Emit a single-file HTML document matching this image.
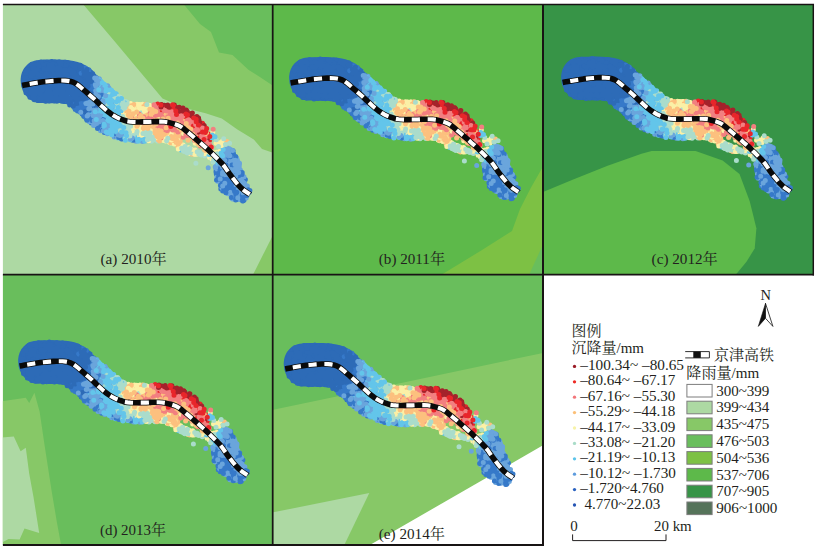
<!DOCTYPE html>
<html lang="zh"><head><meta charset="utf-8"><title>沉降量与降雨量</title>
<style>html,body{margin:0;padding:0;background:#fff}svg{display:block}text{font-family:"Liberation Serif","Noto Serif CJK SC",serif;fill:#231f20}</style></head><body>
<svg width="816" height="549" viewBox="0 0 816 549">
<defs>
<clipPath id="ca"><rect x="2.9" y="4.5" width="269.8" height="270.2"/></clipPath>
<clipPath id="cb"><rect x="272.7" y="4.5" width="270.3" height="270.2"/></clipPath>
<clipPath id="cc"><rect x="543.0" y="4.5" width="270.3" height="270.2"/></clipPath>
<clipPath id="cd"><rect x="2.9" y="274.7" width="269.8" height="270.3"/></clipPath>
<clipPath id="ce"><rect x="272.7" y="274.7" width="270.3" height="270.3"/></clipPath>
<g id="band">
<polygon fill="#2d6bb7" points="21.1,85.6 20.6,80.5 20.7,78.4 20.9,76.8 21.1,75.4 21.4,74.3 21.7,73.2 22.0,72.3 22.4,71.4 22.8,70.6 23.2,69.8 23.6,69.1 24.0,68.4 24.5,67.8 24.9,67.2 26.7,65.2 28.5,63.6 30.4,62.4 32.4,61.4 34.4,60.7 36.6,60.2 38.9,60.0 41.2,59.7 43.4,59.6 45.5,59.6 47.7,59.6 49.9,59.5 52.2,59.5 54.4,59.5 57.0,59.5 59.5,59.6 62.0,59.7 64.7,59.8 67.5,60.0 70.4,60.4 73.5,60.9 77.7,61.9 81.4,63.3 85.7,65.5 88.6,67.3 91.0,69.1 93.4,71.0 65.9,103.9 65.2,103.3 64.4,102.8 64.0,102.5 64.9,103.0 65.1,103.1 65.6,103.3 64.8,103.2 63.8,103.1 62.7,103.1 61.5,103.1 59.9,103.0 58.6,103.0 57.1,103.0 55.4,103.1 53.6,103.2 51.8,103.2 50.0,103.2 48.2,103.2 46.3,103.2 44.6,103.0 42.9,102.9 41.0,103.0 39.2,103.0 37.2,102.7 35.1,102.2 33.0,101.3 30.9,100.1 30.3,99.8 29.8,99.3 29.2,98.9 28.7,98.4 28.1,97.9 27.5,97.3 26.9,96.7 26.3,96.0 25.6,95.2 24.9,94.3 24.2,93.2 23.4,91.9 22.5,90.1 21.1,85.6"/>
<path d="M194.3 126.7h0M191.1 132.9h0M164.8 107.9h0M198.7 123.3h0M172.1 110.5h0M170.3 110.2h0M190.3 118.9h0M196.7 125.2h0M195.4 130.9h0M201.3 124.8h0M192.6 123.3h0M172.9 112.3h0M204.9 142.5h0M175.2 112.3h0M197.8 120.3h0M194.6 125.4h0M205.2 138.5h0M192.6 126.7h0M204.0 128.9h0M200.2 130.9h0M173.1 123.3h0M189.3 130.2h0M206.9 143.2h0" stroke="#e8252a" stroke-width="5.0" stroke-linecap="round" fill="none"/>
<path d="M186.3 110.1h0M174.4 105.0h0M202.5 124.0h0M196.5 122.3h0M167.7 104.9h0M196.9 116.4h0" stroke="#a4222b" stroke-width="5.0" stroke-linecap="round" fill="none"/>
<path d="M84.8 92.9h0M97.0 125.9h0M226.2 179.0h0M238.3 173.6h0M94.7 104.7h0M83.7 103.8h0M232.7 192.7h0M90.4 119.0h0M94.4 79.5h0M218.6 175.8h0M237.3 181.4h0M224.6 170.8h0M80.6 97.6h0M80.1 85.3h0M225.5 186.3h0M221.6 177.7h0M227.0 191.5h0M216.2 170.5h0M238.5 196.4h0M95.5 101.7h0M83.2 72.8h0M98.7 128.0h0M228.8 190.7h0M77.5 109.8h0M94.6 93.4h0M83.1 104.6h0M83.6 79.0h0M88.5 95.0h0M233.5 197.0h0M231.1 190.7h0M227.3 181.4h0M95.3 77.9h0M229.3 161.3h0M228.0 188.3h0M235.8 193.4h0M227.3 183.0h0M222.8 184.2h0M95.4 97.8h0M244.1 200.1h0M79.0 109.3h0M245.4 179.4h0M70.0 100.3h0M96.1 97.0h0M237.6 190.9h0M79.7 70.1h0M76.6 78.0h0M84.8 97.5h0M226.5 186.5h0M82.5 69.0h0M216.3 174.1h0M97.2 96.0h0M237.7 199.6h0M233.2 190.8h0M76.6 85.8h0M93.1 106.4h0M81.1 102.6h0M232.9 183.3h0M244.4 181.2h0M243.4 200.8h0M87.8 96.4h0M236.6 195.3h0M77.3 103.1h0M233.0 189.3h0M86.9 114.8h0M226.6 162.4h0M220.6 182.1h0M234.8 196.5h0M90.9 84.3h0M241.0 199.2h0M79.4 74.2h0M89.3 77.2h0M230.5 185.3h0M93.6 88.1h0M93.7 91.7h0M90.4 113.2h0M236.3 173.1h0M92.5 91.1h0M96.7 107.6h0" stroke="#3679c9" stroke-width="5.0" stroke-linecap="round" fill="none"/>
<path d="M147.9 124.9h0M136.8 117.3h0M126.6 119.2h0M128.6 122.7h0M139.2 104.5h0M131.3 105.2h0M150.6 129.7h0M133.9 107.4h0M131.2 115.9h0M162.7 132.1h0M168.3 141.0h0M128.7 124.2h0M173.6 136.4h0M181.1 146.2h0M134.0 105.5h0M143.2 126.7h0M122.6 115.6h0M146.0 110.8h0M149.1 105.5h0M207.3 154.4h0M124.9 118.4h0M132.2 128.4h0M155.5 137.7h0M144.9 131.3h0M160.7 139.7h0M171.4 142.8h0M156.0 135.8h0M142.8 129.1h0M161.8 139.3h0M138.0 111.1h0M143.9 130.1h0M150.8 135.5h0M135.0 116.8h0M133.1 110.0h0M128.2 108.6h0M133.4 115.1h0M128.6 117.4h0M144.6 133.3h0M212.4 157.2h0M131.8 131.0h0M132.1 110.5h0M208.7 151.0h0M175.7 140.8h0M135.8 105.8h0M190.3 153.5h0M217.4 155.5h0M122.2 114.2h0M196.7 140.2h0M163.4 140.6h0M127.5 117.4h0M114.7 99.2h0M138.3 135.0h0M132.8 125.3h0M154.6 127.2h0M126.9 111.0h0M178.2 138.9h0M153.1 130.3h0M173.6 132.0h0M174.3 136.5h0M169.2 139.6h0M151.6 128.0h0M124.5 117.9h0M185.8 150.2h0M150.1 134.5h0M134.6 114.5h0M143.8 124.6h0M124.7 117.7h0M159.1 133.7h0M121.3 120.1h0M127.5 108.7h0M173.4 137.4h0M173.0 137.9h0" stroke="#fbf0a6" stroke-width="5.0" stroke-linecap="round" fill="none"/>
<path d="M51.3 92.5h0M30.2 68.8h0M57.0 72.9h0M64.6 91.9h0M60.1 83.4h0M35.2 67.3h0M42.6 96.2h0M31.8 86.2h0M68.9 79.8h0M28.6 76.8h0M63.5 74.5h0M79.7 89.7h0M44.6 83.8h0M37.6 100.1h0M63.7 83.8h0M71.9 96.3h0M84.9 90.0h0M47.5 80.8h0M43.5 78.7h0M42.2 76.5h0M37.8 83.1h0M89.1 86.9h0M55.1 73.6h0M26.6 87.9h0M40.6 82.7h0M51.5 66.7h0M46.0 65.4h0M54.5 64.2h0M54.5 100.9h0M83.0 76.6h0M84.4 77.4h0M59.0 87.8h0M34.0 66.1h0M67.6 78.9h0M67.1 97.0h0M52.1 72.2h0M41.2 64.7h0M70.6 101.3h0M24.5 83.3h0M68.1 95.6h0M62.4 68.3h0M75.8 88.0h0M85.2 72.1h0M32.4 95.5h0M39.0 80.6h0M39.2 75.0h0M34.8 87.2h0M91.4 94.4h0M59.3 71.1h0M78.5 85.4h0M71.0 66.6h0M38.9 97.2h0M83.7 87.3h0M60.2 93.8h0M60.5 94.6h0M27.4 71.5h0M40.8 79.0h0M37.5 68.0h0M37.0 77.3h0M75.5 86.8h0M52.1 79.6h0M62.9 71.7h0M57.8 88.3h0M60.6 91.5h0M70.1 96.9h0M56.9 101.2h0M25.7 80.5h0M57.5 63.6h0M64.1 93.9h0M78.5 77.7h0M62.0 92.6h0M61.2 74.0h0M85.6 80.8h0M47.3 95.3h0M81.8 95.7h0M55.2 87.9h0M25.0 81.5h0M81.1 98.1h0M64.2 67.5h0M39.4 92.5h0M40.2 63.7h0M42.4 90.2h0M54.6 66.7h0M53.3 97.0h0M42.5 63.3h0M37.8 87.5h0M52.1 86.7h0M51.5 64.8h0M29.1 75.4h0M48.6 93.5h0M81.7 82.3h0M55.5 84.2h0M39.5 67.1h0M63.9 101.4h0M49.9 87.2h0M73.5 102.4h0M37.3 96.4h0M50.1 82.8h0M59.3 80.7h0M66.6 98.2h0M35.5 86.2h0M53.2 76.5h0M51.7 100.1h0M82.3 67.3h0M70.4 88.7h0M34.3 99.8h0M51.8 61.4h0M69.2 96.8h0M33.3 77.8h0M57.5 93.5h0M74.9 88.3h0M62.9 75.8h0M35.4 91.8h0M59.6 62.6h0M49.6 67.8h0M55.8 90.3h0M59.5 97.7h0M56.6 88.6h0M51.5 75.4h0M40.4 85.8h0M32.2 70.9h0M44.8 66.9h0M77.1 100.0h0M51.3 95.2h0M41.6 84.1h0M59.5 87.4h0M40.7 94.7h0M27.9 83.9h0M44.1 83.9h0M53.7 88.5h0M44.3 92.3h0M71.5 100.2h0M36.7 93.6h0M50.4 70.9h0M68.8 95.7h0M70.7 75.2h0M55.6 79.9h0M29.4 67.0h0M64.3 72.4h0M89.2 87.9h0M64.9 72.4h0M26.9 89.9h0M54.8 62.1h0M46.8 72.9h0M42.7 72.5h0M60.2 83.7h0M27.2 84.5h0M74.6 66.0h0M58.2 96.9h0M40.6 73.6h0M56.9 66.1h0M67.4 86.7h0M54.9 88.7h0M65.3 101.6h0M34.2 93.2h0M60.1 98.7h0M26.8 79.1h0M36.4 72.0h0M69.0 67.0h0M53.6 95.4h0M31.3 73.3h0M24.7 75.3h0M43.4 93.3h0M56.9 99.1h0M74.4 84.0h0M48.1 73.4h0M75.0 79.0h0M29.6 75.7h0M71.2 65.3h0M83.6 112.0h0M39.1 96.1h0M51.5 92.3h0M29.7 86.8h0M32.6 82.1h0M85.6 84.3h0M50.4 80.1h0M74.8 101.0h0M74.4 74.1h0M53.0 65.7h0M46.7 99.8h0M28.7 84.1h0M62.8 94.8h0M53.4 83.2h0M49.8 96.4h0M65.3 64.0h0M57.5 70.6h0M86.4 84.7h0M44.8 68.2h0M73.6 103.8h0M83.8 87.7h0M46.3 75.1h0M74.9 72.7h0M61.2 66.3h0M53.2 95.8h0M37.1 94.5h0M67.9 97.0h0M45.5 101.3h0M60.7 86.3h0M58.9 63.7h0M42.8 96.9h0M32.5 68.7h0M42.1 70.9h0M23.8 78.5h0M29.0 88.5h0M65.9 89.8h0M25.8 82.2h0M84.5 112.7h0M47.3 82.4h0M73.8 79.5h0M78.6 80.6h0M56.1 94.5h0M69.0 82.8h0M29.9 95.6h0M61.8 70.1h0M68.8 92.4h0M82.0 84.5h0M45.4 77.6h0M24.9 86.4h0M49.7 100.0h0M71.1 88.1h0M64.1 77.1h0M57.5 62.6h0M68.6 65.4h0M32.3 94.2h0M44.5 93.6h0M62.5 98.0h0M36.5 63.8h0M28.5 90.2h0M43.6 87.9h0M39.9 77.8h0M28.1 67.9h0M53.7 76.2h0M71.7 93.4h0M85.4 102.6h0M57.2 89.2h0M31.3 88.0h0M26.4 86.9h0M86.1 91.0h0M58.6 89.9h0M32.3 78.3h0M73.7 91.6h0M69.8 77.2h0M67.0 67.9h0M42.3 99.7h0M78.9 93.7h0M34.2 77.1h0M52.6 98.2h0M77.3 92.0h0M66.5 90.3h0" stroke="#2d6bb7" stroke-width="5.0" stroke-linecap="round" fill="none"/>
<path d="M153.3 116.6h0M177.9 129.4h0M167.1 122.0h0M188.4 130.3h0M175.6 116.5h0M193.1 129.0h0M170.6 124.5h0M194.4 120.3h0M200.3 136.6h0M155.2 120.4h0M198.8 140.2h0M153.1 118.6h0M155.5 108.3h0M161.8 113.1h0M158.5 116.6h0M206.1 141.2h0M190.2 134.7h0M171.5 116.4h0M164.4 133.2h0M185.2 131.0h0M142.2 123.2h0M150.7 116.8h0M142.9 119.9h0M172.6 121.1h0M171.6 117.6h0M174.3 124.8h0M148.0 112.1h0M166.4 118.1h0M193.4 135.5h0M156.5 119.1h0M186.1 117.7h0M144.4 121.7h0M145.7 117.9h0M162.0 122.0h0M164.5 114.2h0M156.4 116.4h0M204.2 136.0h0M203.0 140.4h0M167.4 112.2h0M195.0 128.9h0M162.9 112.3h0M160.8 119.8h0M152.2 118.6h0M174.8 118.2h0M167.9 112.5h0M184.4 123.9h0M200.0 131.8h0M160.7 122.4h0M189.1 122.2h0M203.1 141.5h0M171.5 122.9h0M155.6 104.9h0M181.0 131.2h0M171.6 127.6h0M142.6 122.2h0M168.9 126.5h0M161.8 125.2h0M183.2 136.0h0M210.1 138.5h0M194.4 139.1h0M191.5 120.2h0M168.5 120.5h0M152.3 111.5h0M202.6 134.4h0M189.0 120.3h0M154.4 117.2h0" stroke="#f27f80" stroke-width="5.0" stroke-linecap="round" fill="none"/>
<path d="M133.1 138.6h0M100.0 107.1h0M109.1 123.7h0M114.6 118.4h0M104.4 84.9h0M140.5 137.2h0M111.6 115.8h0M120.9 99.7h0M117.4 112.5h0M93.9 112.6h0M117.4 130.4h0M102.8 105.2h0M111.0 95.5h0M108.1 91.5h0M107.0 129.0h0M110.1 108.5h0M116.0 104.1h0M116.6 125.5h0M115.6 119.7h0M110.9 94.7h0M94.5 114.2h0M101.9 111.3h0M104.4 101.4h0M143.3 137.2h0M100.6 82.1h0M120.8 127.6h0M220.4 160.6h0M119.6 133.5h0M116.2 93.7h0M222.6 153.7h0M119.7 127.7h0M112.6 99.6h0M122.7 125.5h0M97.1 118.6h0M106.2 100.4h0M111.4 127.7h0M101.9 84.8h0M112.1 110.0h0M116.6 106.4h0M111.3 97.3h0M104.4 108.0h0M122.8 103.1h0M109.2 94.2h0M116.8 99.7h0M109.2 98.6h0M128.1 134.2h0M109.2 115.6h0M122.5 127.7h0M140.1 140.4h0M114.0 118.0h0M104.1 84.2h0M114.3 112.1h0M112.3 98.3h0M108.4 108.8h0M114.6 108.2h0M115.3 121.0h0M108.7 98.1h0M99.1 118.5h0M217.4 164.0h0M102.6 98.3h0M113.9 103.8h0M106.2 122.3h0M108.4 102.9h0M123.1 124.7h0M181.1 150.0h0M119.8 108.2h0M103.7 87.4h0M103.0 113.3h0M104.8 106.9h0M112.5 104.5h0" stroke="#63c5ea" stroke-width="5.0" stroke-linecap="round" fill="none"/>
<path d="M86.7 107.7h0M93.2 118.9h0M99.8 109.3h0M108.6 113.1h0M95.8 89.2h0M115.8 135.4h0M222.1 163.8h0M103.9 96.0h0M233.0 169.8h0M226.3 174.1h0M232.5 199.0h0M228.3 151.4h0M225.6 157.7h0M95.3 108.6h0M94.7 115.6h0M246.2 198.0h0M227.9 176.7h0M101.1 125.2h0M86.0 105.2h0M114.2 137.1h0M105.4 121.6h0M99.5 115.7h0M108.8 111.6h0M233.7 158.8h0M237.0 171.8h0M142.4 141.6h0M227.7 179.3h0M94.7 81.3h0M240.4 195.1h0M238.2 179.6h0M217.7 181.2h0M227.6 162.8h0M96.2 105.2h0M232.9 195.4h0M91.7 86.4h0M222.0 165.2h0M244.5 183.3h0M97.8 89.4h0M220.9 165.1h0M240.1 178.6h0M99.2 92.0h0M232.4 194.2h0M224.0 157.6h0M136.0 141.2h0M90.2 120.4h0M99.4 84.3h0M89.8 116.8h0M112.4 111.7h0M230.2 174.1h0M216.0 169.1h0M236.6 189.4h0M227.8 164.7h0M110.6 112.4h0M244.4 194.3h0M242.0 177.5h0M95.4 95.1h0M113.1 119.7h0M92.0 115.5h0M224.9 158.6h0M244.2 184.7h0M230.9 152.3h0M89.0 98.9h0M108.0 96.2h0M235.5 159.1h0M132.0 140.1h0M239.5 163.2h0M241.0 184.7h0M247.0 189.6h0M110.6 113.8h0M101.2 103.7h0M239.1 179.1h0M92.9 89.3h0M225.2 153.4h0M99.4 78.7h0M224.9 170.9h0M105.4 117.3h0M98.6 106.2h0M99.6 101.4h0M234.3 199.3h0M216.0 167.4h0M234.5 169.4h0M229.5 156.5h0M242.3 175.5h0M226.3 169.4h0M99.2 117.2h0M111.2 133.0h0M100.4 129.5h0M219.4 180.0h0M142.3 139.9h0M244.7 188.3h0M118.1 132.2h0M230.6 160.6h0M237.3 173.9h0M95.2 107.8h0M94.7 88.8h0M100.1 96.2h0M231.9 158.5h0M104.4 120.3h0M235.0 171.1h0M232.3 159.7h0M107.7 85.8h0M219.0 180.7h0M89.6 117.3h0M100.3 99.1h0M103.8 89.3h0M107.6 98.4h0M110.9 111.2h0M103.1 117.5h0M229.8 177.2h0M96.2 109.1h0M113.9 107.1h0M236.6 170.6h0M98.9 124.5h0M99.3 113.7h0M231.4 155.1h0" stroke="#6aa5dc" stroke-width="5.0" stroke-linecap="round" fill="none"/>
<path d="M164.8 139.6h0M107.0 103.2h0M119.2 110.9h0M136.5 133.4h0M204.0 154.8h0M130.8 134.7h0M152.9 139.0h0M125.3 108.4h0M120.1 96.9h0M214.3 157.7h0M121.1 112.1h0M137.7 137.3h0M133.3 124.3h0M118.5 113.5h0M101.4 114.5h0M183.2 146.5h0M116.1 111.6h0M120.0 121.9h0M194.8 150.9h0M116.4 96.7h0M137.2 138.8h0M112.5 92.6h0M148.1 107.9h0M121.9 106.4h0M118.3 108.6h0M123.3 108.1h0M113.9 100.0h0M124.4 104.4h0M117.9 96.6h0M190.7 152.0h0M137.8 107.0h0M185.1 151.4h0M126.2 102.4h0M204.7 154.9h0M183.1 149.1h0M126.4 127.4h0M123.6 110.6h0M118.8 126.1h0M126.4 104.6h0M122.3 112.3h0M110.0 92.8h0M151.0 134.2h0M145.6 136.4h0M125.3 101.4h0M116.4 128.9h0M115.3 113.5h0M166.9 138.9h0M123.8 121.9h0M130.5 136.4h0M119.1 105.2h0M216.4 159.4h0M118.3 114.8h0M128.3 126.8h0M121.6 108.5h0M136.6 107.7h0M117.8 122.5h0" stroke="#aadccb" stroke-width="5.0" stroke-linecap="round" fill="none"/>
<path d="M164.3 125.2h0M170.4 130.6h0M158.4 123.6h0M171.1 130.1h0M157.8 118.0h0M135.4 110.5h0M192.4 137.3h0M204.1 147.0h0M164.4 113.4h0M177.6 134.2h0M161.0 118.8h0M133.7 110.9h0M135.5 129.6h0M128.4 117.0h0M151.4 116.1h0M178.9 133.3h0M138.4 131.5h0M139.8 125.7h0M159.2 119.1h0M153.1 107.4h0M153.0 110.4h0M158.4 122.9h0M168.0 135.0h0M145.7 130.8h0M130.1 104.9h0M167.5 133.4h0M177.5 126.3h0M138.1 123.8h0M141.4 129.6h0M149.3 123.3h0M184.9 121.7h0M161.9 130.5h0M131.5 119.2h0M152.0 120.4h0M129.2 114.0h0M137.6 113.1h0M159.6 130.0h0M129.5 115.2h0M196.5 136.3h0M179.0 139.9h0M177.6 146.3h0M161.0 128.0h0M159.8 125.4h0M141.7 133.5h0M156.8 127.0h0M135.6 109.2h0M141.4 107.6h0M133.3 116.8h0M169.3 136.3h0M150.3 124.2h0M130.8 106.4h0M166.0 136.7h0M170.8 134.2h0M163.2 133.9h0M139.6 120.4h0M135.7 126.2h0M147.6 127.1h0M178.3 137.0h0M153.2 123.4h0M144.8 115.3h0M136.1 115.5h0" stroke="#fcc07e" stroke-width="5.0" stroke-linecap="round" fill="none"/>
<path d="M173.5 116.3h0M208.2 147.6h0M169.7 122.5h0M175.3 121.4h0M148.8 115.1h0M196.9 133.6h0M174.0 128.8h0M182.2 127.1h0M148.6 125.3h0M188.8 134.3h0M170.7 120.1h0M162.6 127.3h0M156.8 111.5h0M170.8 125.6h0M201.3 144.9h0M174.4 119.6h0M146.8 115.0h0M157.6 114.1h0M161.3 122.1h0M200.3 133.1h0M161.4 110.6h0M146.5 116.7h0M181.3 124.5h0M190.5 130.5h0M143.1 122.6h0M167.2 122.0h0M199.5 134.8h0M175.8 129.0h0M164.8 117.5h0M147.4 116.3h0M164.1 122.2h0M163.8 121.0h0M167.5 135.7h0M181.8 117.7h0M149.1 116.1h0M178.6 120.6h0M183.5 117.0h0M204.5 132.3h0M204.5 129.4h0M146.8 117.5h0M179.6 123.4h0M167.8 109.6h0M146.7 124.3h0M200.3 146.0h0M190.5 131.3h0M199.5 143.4h0M181.4 121.7h0M153.2 113.6h0M195.2 136.8h0M197.6 138.1h0M158.3 111.1h0" stroke="#f27f80" stroke-width="5.0" stroke-linecap="round" fill="none"/>
<path d="M122.0 128.8h0M125.1 123.5h0M219.4 156.0h0M157.5 141.0h0M122.6 107.8h0M122.3 111.1h0M118.0 118.9h0M132.4 113.0h0M135.4 133.5h0M122.0 104.9h0M115.3 98.8h0M120.4 118.3h0M191.9 151.0h0M126.0 105.4h0M212.0 153.8h0M115.4 97.9h0M138.5 130.8h0M204.9 156.0h0M155.0 138.5h0M139.2 132.8h0M145.2 108.5h0M108.9 94.4h0M107.7 106.3h0M134.1 134.6h0M116.7 114.3h0M125.4 131.9h0M125.7 106.1h0M127.6 105.7h0M124.0 106.6h0M120.5 106.2h0M149.4 138.0h0M141.4 138.0h0M115.7 126.4h0M124.9 130.4h0M135.3 135.3h0M116.4 116.9h0M139.4 135.2h0M184.7 151.4h0M206.1 153.3h0M125.4 128.5h0M152.2 134.1h0M149.3 128.6h0M144.2 106.1h0M118.0 105.9h0M109.8 106.2h0M117.8 129.6h0M144.8 135.0h0M119.0 110.5h0M135.8 138.1h0M186.7 147.4h0M120.0 101.5h0" stroke="#aadccb" stroke-width="5.0" stroke-linecap="round" fill="none"/>
<path d="M170.5 137.5h0M219.4 151.5h0M136.6 105.9h0M169.5 138.7h0M150.5 126.8h0M132.3 115.8h0M169.7 142.5h0M148.8 105.2h0M122.3 120.0h0M175.2 139.1h0M142.3 111.2h0M131.0 110.0h0M134.1 130.7h0M195.2 143.2h0M168.3 137.0h0M135.5 111.6h0M141.9 104.5h0M145.8 129.3h0M129.9 115.0h0M133.0 126.0h0M140.4 112.2h0M193.5 151.6h0M138.0 110.0h0M139.8 110.4h0M144.5 125.8h0M177.8 138.2h0M159.6 119.6h0M179.9 147.3h0M187.1 149.7h0M155.8 127.8h0M138.7 115.8h0M124.9 112.2h0M120.2 114.3h0M181.0 144.2h0M188.6 147.8h0M170.9 143.1h0M134.7 112.9h0M172.9 141.7h0M149.0 107.4h0M183.2 145.1h0M142.9 132.2h0M153.2 132.3h0M149.5 131.5h0M169.6 140.5h0M133.5 123.8h0M127.4 109.3h0M129.3 127.3h0M156.9 133.5h0M147.8 123.6h0M163.8 138.0h0M140.8 132.4h0M142.8 112.4h0M130.1 108.5h0M153.8 113.4h0M133.2 111.2h0M136.7 135.2h0M209.6 157.6h0M147.6 112.2h0M128.5 104.7h0M169.4 133.4h0M162.6 136.8h0M132.4 109.1h0M123.6 109.2h0M171.8 134.3h0M142.7 108.3h0M125.6 103.7h0M151.3 107.6h0M173.8 134.4h0M134.6 112.9h0M174.2 143.0h0M146.3 105.6h0M126.3 123.3h0M149.7 128.4h0M140.0 113.4h0M137.9 113.5h0M174.2 135.4h0" stroke="#fbf0a6" stroke-width="5.0" stroke-linecap="round" fill="none"/>
<path d="M118.0 138.1h0M144.7 141.2h0M229.7 168.1h0M101.6 92.6h0M135.7 139.6h0M111.2 102.3h0M101.9 107.8h0M111.6 105.7h0M100.5 86.6h0M109.4 96.0h0M141.7 136.6h0M236.0 162.0h0M115.9 123.9h0M110.0 118.3h0M209.1 154.4h0M107.8 130.7h0M138.2 141.2h0M225.3 154.8h0M104.6 84.8h0M100.1 110.9h0M132.5 137.3h0M118.8 122.2h0M113.3 121.8h0M95.5 120.5h0M117.6 105.3h0M107.5 106.8h0M115.9 114.0h0M113.2 104.8h0M112.8 114.0h0M113.4 103.1h0M104.9 91.7h0M145.0 137.7h0M134.8 136.2h0M114.3 123.2h0M92.8 111.2h0M117.6 109.2h0M103.9 99.8h0M110.4 101.0h0M101.9 86.0h0M109.6 109.1h0M112.6 101.2h0M221.5 159.4h0M106.3 115.6h0M112.9 110.6h0M221.5 158.2h0M103.9 110.4h0M105.4 119.9h0M118.4 125.9h0M112.6 124.8h0M117.5 104.7h0M111.1 104.1h0M103.5 115.9h0M118.0 111.1h0M116.0 101.7h0M120.9 101.2h0M118.1 103.7h0M122.6 135.8h0M227.8 149.1h0M120.3 98.9h0M112.4 108.1h0M100.5 119.5h0M98.9 81.6h0M140.2 138.8h0" stroke="#63c5ea" stroke-width="5.0" stroke-linecap="round" fill="none"/>
<path d="M221.0 171.1h0M245.9 195.5h0M93.6 101.0h0M228.3 167.4h0M92.0 99.2h0M242.1 186.4h0M233.6 179.7h0M216.0 172.1h0M91.2 122.9h0M220.6 173.2h0M80.9 83.3h0M102.6 95.4h0M88.2 112.3h0M104.3 130.3h0M92.4 106.3h0M89.3 96.2h0M82.9 101.1h0M222.4 169.3h0M89.7 110.0h0M100.3 127.5h0M79.1 83.0h0M90.8 88.9h0M88.8 94.8h0M84.1 102.1h0M82.3 109.4h0M222.7 191.0h0M232.6 188.3h0M85.6 76.8h0M234.9 179.5h0M86.0 108.2h0M100.0 97.3h0M83.2 79.5h0M91.3 75.4h0M90.7 77.9h0M95.1 80.9h0M88.5 92.7h0M225.0 186.5h0M81.6 110.3h0M86.5 102.0h0M80.5 105.9h0M226.7 184.1h0M90.9 107.3h0M90.1 85.8h0M104.3 132.6h0M224.9 164.2h0M71.5 87.1h0M235.8 188.2h0M133.1 140.3h0M90.9 121.3h0M82.6 74.7h0M87.3 95.7h0M97.7 101.2h0M103.0 124.8h0M86.3 110.9h0M244.4 192.1h0M97.6 92.6h0M224.3 178.4h0M124.8 134.1h0M230.8 188.9h0M101.5 106.4h0M95.7 103.2h0M218.3 170.9h0M87.8 104.9h0M89.8 72.9h0M234.3 180.8h0M95.6 99.5h0M84.9 98.0h0M98.0 97.2h0M233.3 184.5h0M237.0 180.4h0M77.1 106.1h0M93.7 77.9h0M236.0 191.7h0M95.2 99.5h0M76.7 107.2h0M92.4 94.3h0M89.5 106.5h0M245.0 190.7h0M232.4 161.5h0M227.8 188.9h0M237.0 177.4h0M116.5 136.5h0M90.0 111.4h0M77.1 106.6h0M245.6 189.5h0M220.8 189.0h0M100.1 103.2h0M89.1 91.4h0M243.0 200.0h0M94.9 102.1h0M247.0 195.4h0M91.7 75.8h0M91.2 116.5h0" stroke="#3679c9" stroke-width="5.0" stroke-linecap="round" fill="none"/>
<path d="M179.3 107.2h0M185.4 111.9h0M202.8 127.0h0M176.2 107.7h0M164.4 105.3h0M191.6 113.4h0M156.5 105.3h0" stroke="#a4222b" stroke-width="5.0" stroke-linecap="round" fill="none"/>
<path d="M53.1 91.9h0M37.5 88.6h0M59.8 96.8h0M56.2 77.3h0M70.8 82.3h0M71.6 86.8h0M43.2 77.9h0M48.9 68.6h0M50.6 78.6h0M65.4 91.7h0M27.1 76.5h0M31.0 84.2h0M46.4 94.3h0M66.8 75.3h0M31.6 85.8h0M42.0 81.0h0M66.1 82.5h0M83.8 80.7h0M76.2 69.9h0M58.1 69.7h0M81.9 108.8h0M28.0 90.4h0M48.4 98.6h0M62.3 83.1h0M81.2 87.9h0M83.7 84.3h0M35.0 89.9h0M54.9 75.6h0M68.3 70.9h0M49.2 83.2h0M67.9 68.7h0M63.6 68.9h0M44.0 99.8h0M73.1 94.9h0M49.8 69.0h0M28.1 92.5h0M51.9 89.3h0M38.5 83.2h0M63.7 63.9h0M55.4 91.3h0M74.2 84.0h0M31.1 80.6h0M75.1 94.1h0M88.8 84.9h0M83.1 91.5h0M69.8 78.1h0M67.2 88.0h0M83.8 116.2h0M56.3 93.5h0M73.1 100.3h0M68.2 94.8h0M55.2 82.5h0M67.5 97.9h0M49.7 62.8h0M47.7 87.9h0M53.0 71.7h0M33.9 72.6h0M41.4 69.7h0M80.6 82.0h0M31.3 79.7h0M47.4 63.4h0M60.4 81.5h0M46.3 67.7h0M72.2 77.1h0M49.3 66.8h0M88.4 80.7h0M65.1 66.0h0M37.0 99.4h0M82.3 107.3h0M89.2 78.3h0M62.1 96.3h0M30.8 72.1h0M33.4 93.3h0M70.1 93.1h0M46.1 85.8h0M61.8 101.2h0M68.4 71.7h0M37.1 66.8h0M51.7 99.6h0M65.1 95.6h0M78.4 84.8h0M65.9 100.6h0M41.1 80.7h0M61.0 90.2h0M69.0 93.4h0M54.2 86.5h0M45.5 95.9h0M40.1 89.9h0M31.5 75.3h0M67.2 91.6h0M40.5 78.6h0M31.7 77.3h0M27.7 76.2h0M70.0 85.3h0M38.1 100.4h0M63.7 91.0h0M38.1 85.3h0M58.5 68.8h0M73.8 69.1h0M57.9 76.0h0M29.9 97.2h0M72.6 64.8h0M30.1 77.7h0M70.7 97.9h0M33.0 78.2h0M67.6 67.1h0M46.6 66.7h0M66.9 96.6h0M37.9 75.7h0M37.7 65.0h0M67.7 84.4h0M79.1 91.1h0M53.4 63.3h0M71.8 90.2h0M43.6 71.0h0M62.8 97.4h0M47.4 96.0h0M43.4 86.0h0M69.9 95.8h0M80.5 110.7h0M26.0 92.8h0M57.9 81.0h0M68.0 62.7h0M62.7 99.4h0M62.7 87.6h0M68.5 84.4h0M71.6 96.5h0M50.0 89.3h0M63.5 99.5h0M76.2 102.1h0M65.1 62.3h0M78.1 94.3h0M71.0 80.2h0M34.7 99.3h0M79.4 76.3h0M60.9 72.5h0M70.7 101.9h0M33.0 67.0h0M67.9 95.3h0M54.1 65.4h0M55.3 96.5h0M31.7 70.0h0M65.3 99.5h0M39.9 81.3h0M32.7 81.0h0M44.5 63.5h0M28.4 86.7h0M28.7 78.4h0M72.7 69.1h0M33.6 86.4h0M83.2 102.5h0M53.6 92.7h0M30.3 90.7h0M47.0 62.3h0M56.2 91.6h0M64.7 98.6h0M41.1 77.3h0M67.7 93.7h0M43.2 92.0h0M80.3 65.2h0M80.8 92.6h0M51.4 74.9h0M42.3 66.9h0M46.3 95.3h0M84.5 86.1h0M68.2 82.1h0M63.4 82.2h0M62.5 80.7h0M65.2 85.6h0M56.2 95.6h0M83.4 111.5h0M87.1 90.8h0M68.5 76.0h0M29.7 70.2h0M51.4 84.8h0M65.9 100.8h0M35.4 68.9h0M47.1 70.2h0M64.8 90.7h0M55.6 100.0h0M72.5 88.9h0M45.4 70.9h0M37.0 79.4h0M63.6 85.9h0M45.3 99.5h0M56.6 75.5h0M38.6 66.9h0M53.9 87.5h0M42.2 88.6h0M36.3 65.4h0M65.8 75.7h0M37.3 95.7h0M34.9 80.1h0M70.5 90.1h0M73.4 98.7h0M24.0 85.7h0M60.2 68.0h0M52.4 91.4h0M63.2 78.9h0M44.0 76.1h0M48.4 89.0h0M45.6 89.4h0M89.8 80.1h0M48.5 84.0h0M78.4 73.2h0M90.7 83.4h0M65.1 90.9h0M58.6 77.1h0M65.9 81.2h0M40.8 70.0h0M67.9 95.5h0M65.3 101.5h0M62.2 90.7h0M76.1 86.9h0M48.8 95.9h0M44.5 69.9h0M34.9 74.5h0M25.6 78.9h0M76.0 94.4h0M48.3 72.7h0M63.9 96.9h0M85.0 70.1h0M70.8 93.9h0M45.1 78.0h0M61.7 74.9h0M29.3 84.0h0M51.0 90.1h0M83.5 79.8h0M66.6 94.9h0M79.6 96.2h0M66.5 86.8h0M28.8 94.1h0M78.5 89.3h0M48.9 71.5h0M79.6 78.5h0M86.9 111.2h0M29.5 92.7h0M42.5 74.8h0M28.2 80.2h0M64.3 70.9h0M69.4 94.5h0M46.6 80.1h0M44.5 87.1h0M41.5 83.6h0M90.9 83.5h0M55.7 98.3h0M41.9 68.2h0M62.5 93.9h0M65.1 66.0h0M86.2 86.9h0M47.9 81.5h0M47.8 77.7h0M58.8 95.1h0M58.6 64.5h0M72.5 98.1h0M47.2 96.8h0M39.7 69.3h0M62.0 85.8h0M77.4 76.6h0M54.6 95.7h0M48.7 77.0h0M44.7 62.7h0M62.3 88.6h0M75.9 101.0h0M92.5 82.7h0M51.7 88.3h0M36.2 75.6h0M73.5 106.6h0M87.3 72.5h0M42.2 93.9h0M48.9 79.7h0M52.3 99.8h0M42.5 93.3h0M53.6 89.4h0M52.6 81.0h0M82.4 92.1h0M93.4 98.1h0M88.1 90.0h0M66.3 91.6h0M33.7 81.5h0M58.2 98.0h0M26.7 70.1h0M38.8 71.3h0M65.5 84.4h0M28.2 73.5h0M88.9 79.7h0M65.9 101.2h0" stroke="#2d6bb7" stroke-width="5.0" stroke-linecap="round" fill="none"/>
<path d="M206.1 141.5h0M190.1 113.8h0M170.3 112.3h0M188.3 118.2h0M176.5 108.5h0M183.6 127.1h0M157.7 103.9h0M168.6 108.5h0M195.9 126.9h0M203.0 129.0h0M201.6 125.6h0M188.5 116.7h0M196.2 121.3h0M145.5 119.6h0M172.9 109.3h0M200.0 127.1h0M157.7 105.2h0M170.0 108.0h0" stroke="#e8252a" stroke-width="5.0" stroke-linecap="round" fill="none"/>
<path d="M102.9 116.3h0M230.7 194.1h0M215.2 166.9h0M98.3 105.1h0M231.2 158.8h0M219.4 168.7h0M108.0 120.4h0M233.9 156.8h0M113.7 134.8h0M93.9 112.7h0M231.0 149.7h0M234.3 160.1h0M227.9 193.8h0M229.3 162.1h0M238.8 199.5h0M110.1 128.6h0M231.2 167.0h0M93.4 103.9h0M223.8 164.5h0M241.8 186.9h0M103.6 91.9h0M92.7 118.2h0M97.2 109.5h0M80.6 99.0h0M239.0 182.3h0M98.6 108.6h0M105.5 95.1h0M222.4 184.4h0M92.0 102.1h0M240.4 169.9h0M87.9 119.6h0M105.6 88.5h0M100.4 104.1h0M111.8 121.7h0M235.3 169.7h0M104.7 116.3h0M239.6 189.7h0M230.7 164.0h0M229.1 171.5h0M105.5 128.3h0M241.2 176.0h0M117.1 137.1h0M102.7 106.0h0M226.1 172.6h0M105.0 124.1h0M107.6 114.7h0M105.8 118.7h0M90.2 98.1h0M122.6 138.9h0M100.7 86.7h0M101.3 116.9h0M99.8 121.3h0M109.6 122.6h0M107.4 133.8h0M102.7 127.3h0M101.8 104.3h0M247.4 186.1h0M99.2 86.3h0M117.3 134.5h0M106.5 107.3h0M110.0 123.4h0M228.7 178.8h0M99.1 113.8h0M105.1 96.6h0M246.3 185.7h0M97.4 112.1h0M228.9 176.5h0M108.7 125.0h0M223.1 159.0h0M239.4 191.4h0M217.3 169.2h0M120.9 138.0h0M102.2 96.3h0M108.3 117.7h0M107.2 101.1h0M107.5 115.6h0M224.6 169.5h0M225.5 150.7h0M109.9 99.6h0M97.1 121.9h0M98.3 121.0h0M238.2 189.5h0M87.5 117.9h0M94.5 118.1h0M238.9 184.3h0M228.1 165.8h0M218.9 167.1h0M93.1 74.4h0M224.4 168.3h0M234.8 175.7h0M105.1 89.4h0M234.3 167.3h0M96.1 83.1h0M227.0 147.8h0M100.0 87.9h0M108.5 87.7h0M95.6 121.1h0" stroke="#6aa5dc" stroke-width="5.0" stroke-linecap="round" fill="none"/>
<path d="M175.5 126.3h0M157.9 139.6h0M131.8 107.0h0M182.2 123.2h0M133.3 129.0h0M142.1 113.1h0M160.6 122.9h0M132.1 105.2h0M172.2 131.4h0M168.3 131.7h0M190.7 125.3h0M175.1 138.6h0M185.1 120.6h0M132.8 119.1h0M170.0 132.4h0M193.7 133.1h0M143.9 129.2h0M145.8 109.5h0M162.9 117.2h0M197.5 137.2h0M171.6 137.7h0M125.4 113.2h0M185.1 118.6h0M192.2 154.3h0M179.0 132.6h0M159.9 131.3h0M138.8 127.4h0M165.2 135.2h0M157.8 134.6h0M128.6 114.1h0M154.5 113.7h0M175.9 135.9h0M174.4 135.0h0M126.6 115.0h0M174.9 133.0h0M130.2 107.0h0M160.9 131.5h0M170.7 142.7h0M143.7 116.0h0M176.6 128.7h0M145.7 113.3h0M170.9 140.1h0M160.6 133.4h0M165.1 133.7h0M190.9 137.7h0M183.5 129.5h0M136.3 121.6h0M187.2 127.7h0M174.4 129.4h0M180.3 141.5h0M136.0 127.9h0M197.8 143.0h0M163.7 115.5h0M176.9 123.3h0" stroke="#fcc07e" stroke-width="5.0" stroke-linecap="round" fill="none"/>
<path d="M171.7 131.6h0M205.9 151.9h0M158.8 138.6h0M130.1 110.7h0M130.1 118.5h0M147.8 110.6h0M125.7 125.3h0M125.1 114.9h0M131.1 105.0h0M174.3 144.0h0M207.6 150.3h0M153.7 124.4h0M135.3 119.1h0M143.2 134.7h0M129.3 119.9h0M163.1 139.3h0M128.0 107.0h0M171.4 134.8h0M137.0 104.2h0M137.3 120.4h0M149.8 106.8h0M142.7 104.3h0M139.9 129.4h0M123.3 118.6h0M131.3 132.9h0M143.8 112.4h0M130.5 130.4h0M132.5 124.1h0M124.1 112.5h0M131.4 129.6h0M146.5 127.8h0M157.3 136.0h0M206.2 149.9h0M147.2 130.1h0M132.1 118.4h0M138.6 119.8h0M144.7 104.6h0M126.3 110.2h0M125.2 111.3h0M154.4 133.7h0M152.1 135.9h0M152.1 129.2h0M140.6 109.2h0M172.5 140.1h0M130.7 103.5h0M154.1 127.5h0M130.9 113.1h0M133.3 132.2h0M175.0 137.3h0M147.9 138.2h0M194.5 154.1h0M137.3 109.3h0M149.7 105.5h0M129.4 108.7h0M136.9 110.1h0M211.2 152.5h0M178.3 149.0h0M123.6 113.5h0M131.7 121.1h0M131.9 114.4h0M131.0 105.6h0M156.4 137.5h0M160.2 136.3h0M130.0 109.1h0M140.9 109.8h0M152.9 125.8h0M135.7 106.8h0M171.4 138.9h0M210.2 152.8h0M150.5 125.3h0M154.8 137.4h0M167.5 138.2h0M204.3 153.7h0" stroke="#fbf0a6" stroke-width="5.0" stroke-linecap="round" fill="none"/>
<path d="M153.6 140.0h0M101.0 108.4h0M183.4 151.0h0M211.8 159.3h0M128.3 128.7h0M139.5 133.6h0M125.5 107.3h0M128.1 121.0h0M123.7 130.1h0M131.5 126.6h0M117.4 109.9h0M122.4 123.7h0M121.0 108.8h0M127.1 130.6h0M127.2 103.8h0M191.5 153.0h0M125.9 124.3h0M121.2 102.4h0M119.6 121.8h0M128.5 134.2h0M129.4 136.6h0M151.5 141.2h0M199.7 152.6h0M121.1 105.1h0M119.1 101.7h0M118.3 102.3h0M123.4 128.5h0M150.3 139.8h0M109.2 107.0h0M146.0 138.8h0M121.2 110.1h0M122.9 109.6h0M121.0 103.0h0M150.4 132.4h0M181.7 148.3h0M185.6 148.4h0M117.3 119.3h0M119.3 119.1h0M133.2 135.4h0M145.9 107.7h0M126.9 102.0h0M141.1 112.1h0M110.0 102.0h0M210.6 151.9h0M124.3 103.2h0M118.7 105.5h0M119.7 120.3h0M125.2 136.3h0" stroke="#aadccb" stroke-width="5.0" stroke-linecap="round" fill="none"/>
<path d="M226.5 189.6h0M244.0 176.8h0M236.7 158.1h0M240.0 194.0h0M97.1 95.3h0M107.4 114.0h0M101.7 120.8h0M101.2 123.9h0M97.6 91.5h0M97.1 88.0h0M82.7 103.3h0M97.3 85.4h0M103.3 93.6h0M92.0 98.5h0M89.3 121.7h0M232.9 178.0h0M235.4 173.8h0M229.4 148.8h0M101.1 90.0h0M101.8 125.7h0M93.6 125.5h0M97.7 79.6h0M238.9 194.6h0M104.3 92.3h0M225.4 167.7h0M114.9 104.5h0M221.4 160.0h0M98.7 87.9h0M100.7 92.9h0M243.5 185.8h0M221.9 172.5h0M95.8 116.9h0M109.9 131.8h0M99.7 106.2h0M216.9 176.9h0M119.7 137.0h0M239.2 167.4h0M226.2 153.7h0M93.6 86.4h0M103.7 95.2h0M235.9 184.8h0M96.3 125.7h0M94.5 83.1h0M97.9 81.5h0M231.9 167.9h0M99.8 120.3h0M227.1 167.4h0M113.9 116.8h0M217.3 166.5h0M238.8 162.7h0M107.1 112.1h0M98.5 112.2h0M227.2 156.0h0M239.0 169.5h0M244.8 188.6h0M100.2 93.7h0M105.6 126.9h0M86.2 92.1h0M96.4 109.9h0M227.7 156.6h0M237.0 163.9h0M237.4 160.1h0M219.5 160.0h0M90.3 105.5h0M232.6 162.7h0M81.0 101.3h0M101.0 98.1h0M224.7 174.8h0M92.0 112.8h0M121.9 133.9h0M100.6 130.8h0M222.3 188.2h0M96.8 113.0h0M229.2 163.8h0M107.8 119.2h0M220.6 162.7h0M232.9 174.0h0M224.6 173.4h0M90.6 103.2h0M228.4 153.0h0M221.6 187.1h0M244.2 187.5h0M105.9 99.1h0M226.8 151.2h0M230.5 192.5h0M237.3 160.9h0M228.6 191.1h0M103.3 103.0h0M215.9 166.1h0M240.0 172.2h0M103.0 102.5h0M113.2 129.4h0M94.2 120.2h0M217.3 167.6h0M230.8 178.9h0M92.8 122.1h0M98.4 90.8h0M98.7 103.9h0M91.8 111.7h0M132.4 138.0h0" stroke="#6aa5dc" stroke-width="5.0" stroke-linecap="round" fill="none"/>
<path d="M157.2 122.5h0M203.3 146.3h0M155.8 117.9h0M159.5 135.0h0M145.2 115.8h0M181.9 130.1h0M152.9 123.5h0M139.1 107.8h0M198.1 142.4h0M129.7 107.4h0M156.1 126.5h0M183.4 122.1h0M165.5 132.3h0M162.2 129.5h0M171.3 136.6h0M193.0 137.6h0M179.5 130.4h0M152.3 128.3h0M167.2 114.6h0M160.6 135.0h0M146.8 121.6h0M156.4 124.7h0M181.7 137.6h0M139.0 117.4h0M143.1 106.8h0M126.8 112.1h0M178.7 143.4h0M135.9 126.5h0M120.4 117.2h0M205.7 146.4h0M166.8 124.6h0M133.9 104.4h0M133.7 118.4h0M159.6 138.0h0M134.5 121.8h0M133.6 122.3h0M166.2 130.8h0M129.2 112.9h0M157.9 137.0h0M165.6 115.0h0M132.6 107.6h0M175.8 135.5h0M165.7 116.0h0M206.5 145.6h0M178.9 124.2h0M147.3 121.3h0M176.5 141.9h0M127.2 118.8h0M170.0 118.3h0M150.4 112.1h0M162.7 128.1h0M143.9 124.2h0M133.7 119.4h0M175.5 131.0h0M137.3 127.8h0M187.1 124.6h0M132.6 106.0h0M178.1 144.0h0M140.0 115.2h0M182.3 128.7h0M176.3 142.6h0M148.9 114.5h0M173.4 140.5h0M131.9 105.5h0M145.9 126.8h0M163.2 132.1h0M140.0 125.1h0M129.5 112.3h0M154.7 129.6h0M139.4 122.7h0M155.0 135.6h0M131.4 105.9h0M147.7 114.6h0M129.4 117.9h0M177.6 135.7h0M136.4 118.1h0M159.9 132.2h0M142.2 127.7h0M138.6 122.5h0M141.1 117.1h0M130.8 108.0h0M162.7 135.7h0M151.4 121.0h0" stroke="#fcc07e" stroke-width="5.0" stroke-linecap="round" fill="none"/>
<path d="M92.2 87.1h0M228.5 184.1h0M243.8 190.6h0M88.6 113.5h0M229.3 171.6h0M78.7 100.8h0M220.5 168.7h0M99.0 95.5h0M225.9 160.0h0M84.2 109.4h0M114.6 133.7h0M233.6 175.8h0M91.3 99.7h0M231.9 183.4h0M224.6 189.7h0M232.0 165.1h0M226.7 179.6h0M91.9 120.4h0M79.3 102.2h0M80.0 112.1h0M235.7 200.0h0M78.9 111.1h0M113.8 132.8h0M77.5 110.9h0M242.2 172.4h0M75.3 109.6h0M74.6 80.5h0M242.6 201.1h0M96.4 103.3h0M98.9 125.5h0M87.4 114.0h0M96.8 99.0h0M78.3 86.6h0M218.1 173.4h0M94.0 102.7h0M226.0 164.9h0M220.5 167.0h0M242.3 195.1h0M236.8 192.3h0M242.4 199.3h0M240.1 185.0h0M218.5 177.2h0M79.9 99.9h0M231.3 197.5h0M87.3 101.2h0M93.8 110.4h0M241.6 188.2h0M87.0 94.1h0M82.2 113.0h0M233.1 150.8h0M86.1 118.4h0M91.9 108.3h0M118.8 137.6h0M238.9 175.7h0M81.5 107.4h0M234.6 191.6h0M80.7 102.0h0M96.2 77.4h0M84.8 115.2h0M231.8 178.4h0M233.5 153.6h0M78.3 108.9h0M76.7 106.0h0M95.3 94.6h0M90.2 118.3h0M83.0 74.2h0M78.9 105.3h0M89.6 99.5h0M221.5 180.3h0M229.7 187.4h0M102.5 130.3h0M216.5 180.1h0M102.0 122.5h0M84.1 99.2h0M92.3 81.1h0M221.3 175.4h0M235.9 181.4h0M82.1 114.1h0M103.3 119.3h0M245.8 191.7h0M112.5 132.0h0M235.8 194.6h0M93.4 77.1h0M88.2 111.6h0M85.4 116.4h0M121.5 138.9h0M223.6 180.8h0M84.6 116.6h0" stroke="#3679c9" stroke-width="5.0" stroke-linecap="round" fill="none"/>
<path d="M90.4 89.7h0M34.3 96.8h0M60.0 80.5h0M36.0 86.8h0M28.9 72.1h0M65.4 77.0h0M52.9 68.8h0M72.3 83.0h0M72.4 69.8h0M59.8 77.3h0M56.9 79.0h0M36.7 81.1h0M68.6 99.7h0M38.5 97.8h0M64.9 100.5h0M61.8 72.1h0M36.6 73.1h0M92.6 73.4h0M76.9 68.2h0M59.1 96.0h0M43.5 80.5h0M32.9 98.0h0M34.7 71.2h0M40.0 64.1h0M53.2 82.6h0M51.3 74.5h0M27.2 74.9h0M50.0 91.0h0M46.1 83.9h0M70.4 73.0h0M71.4 94.3h0M55.7 70.8h0M65.2 80.7h0M29.2 73.7h0M73.0 89.1h0M48.8 88.2h0M34.1 89.3h0M28.5 88.0h0M80.6 74.0h0M65.8 65.6h0M75.7 97.0h0M43.1 72.0h0M61.7 66.1h0M59.2 100.6h0M59.5 99.5h0M53.7 75.8h0M68.1 98.1h0M36.5 84.9h0M44.1 66.9h0M41.8 86.1h0M72.2 104.0h0M38.5 78.6h0M69.7 90.6h0M39.7 88.3h0M31.3 93.8h0M73.7 101.6h0M67.5 99.4h0M65.4 99.8h0M41.0 62.1h0M59.2 75.2h0M60.2 87.2h0M41.1 99.1h0M86.8 106.6h0M26.2 89.6h0M79.4 103.9h0M77.7 83.6h0M81.9 89.3h0M78.0 95.0h0M58.7 92.4h0M66.8 93.9h0M54.5 82.3h0M29.1 80.3h0M41.3 72.8h0M61.6 62.6h0M84.4 94.3h0M60.1 99.4h0M30.6 89.0h0M43.3 94.8h0M65.0 88.3h0M62.3 100.0h0M48.3 83.0h0M51.1 80.8h0M41.5 91.0h0M54.4 94.7h0M46.9 63.8h0M81.1 96.7h0M71.6 73.1h0M33.9 66.8h0M70.5 84.9h0M36.6 83.1h0M81.5 77.6h0M83.8 93.9h0M68.7 75.4h0M69.1 101.8h0M74.0 95.3h0M26.1 90.5h0M34.5 78.6h0M82.6 97.3h0M41.4 88.1h0M66.6 101.2h0M35.1 83.8h0M50.0 98.8h0M41.3 65.1h0M45.0 79.6h0M68.6 94.8h0M59.2 91.3h0M49.1 64.6h0M66.2 71.4h0M71.4 64.6h0M75.7 89.6h0M24.7 80.6h0M66.0 100.8h0M67.3 97.1h0M42.9 64.8h0M65.2 79.2h0M69.1 91.0h0M86.0 78.4h0M56.2 81.0h0M66.3 87.8h0M44.2 74.0h0M53.8 99.3h0M24.4 75.9h0M55.0 80.8h0M39.0 84.0h0M44.3 90.6h0M62.4 82.6h0M45.7 85.5h0M32.2 66.5h0M44.8 99.1h0M89.2 84.9h0M49.8 75.0h0M43.1 67.1h0M75.6 91.2h0M73.7 70.4h0M74.4 91.1h0M85.9 94.5h0M53.1 71.0h0M35.5 95.3h0M63.1 64.4h0M78.6 97.2h0M49.1 86.2h0M43.0 82.3h0M81.4 87.3h0M28.4 73.8h0M89.1 77.8h0M37.6 92.9h0M74.5 89.5h0M67.8 92.2h0M78.1 103.8h0M44.2 65.0h0M89.5 74.1h0M47.6 86.5h0M39.1 94.9h0M38.0 89.5h0M67.0 85.9h0M66.9 80.4h0M51.5 64.4h0M57.9 95.8h0M36.7 63.3h0M77.2 97.7h0M57.1 79.7h0M64.1 95.1h0M40.3 75.6h0M33.9 80.4h0M24.1 77.1h0M26.4 88.2h0M38.3 73.1h0M73.7 64.2h0M35.5 75.1h0M25.4 85.6h0M72.4 78.3h0M87.0 87.9h0M60.4 74.6h0M67.1 96.8h0M76.1 64.6h0M25.9 77.0h0M52.7 78.3h0M36.6 97.4h0M32.9 76.4h0M70.6 104.0h0M54.4 69.5h0M53.7 78.6h0M52.3 71.6h0M66.7 99.2h0M72.2 84.3h0M37.5 88.4h0M69.5 88.6h0M61.4 78.7h0M72.2 100.6h0M34.8 74.5h0M63.2 79.7h0M46.0 91.4h0M71.1 73.6h0M43.0 100.0h0M74.9 91.9h0M78.9 71.8h0M61.2 87.4h0M75.9 67.8h0M37.9 76.6h0M40.3 88.3h0M73.9 66.4h0M38.4 70.3h0M47.9 91.5h0M67.9 92.3h0M74.5 102.4h0M31.1 82.8h0M48.8 69.7h0M74.6 84.6h0M77.0 70.3h0M37.4 71.3h0M50.8 72.6h0M75.8 92.4h0M57.9 86.4h0M69.7 105.1h0M67.6 74.5h0M34.0 87.7h0M69.0 86.1h0M67.5 95.2h0M63.0 92.9h0M73.4 83.0h0M33.0 83.4h0M39.0 80.7h0" stroke="#2d6bb7" stroke-width="5.0" stroke-linecap="round" fill="none"/>
<path d="M172.8 107.9h0M184.7 113.1h0M202.5 123.2h0M167.2 108.9h0M161.2 111.9h0M196.7 128.4h0M191.5 126.2h0M156.6 107.0h0M194.1 123.8h0M175.0 108.2h0M209.1 134.2h0M194.9 122.3h0M174.6 109.1h0M190.6 120.3h0M178.7 117.3h0M163.6 106.9h0M209.6 140.3h0M173.6 105.8h0M199.3 137.8h0M178.7 113.8h0M204.9 127.6h0M202.7 124.1h0M185.4 116.6h0M181.3 112.2h0" stroke="#e8252a" stroke-width="5.0" stroke-linecap="round" fill="none"/>
<path d="M223.2 149.4h0M129.8 137.9h0M115.3 128.9h0M121.6 99.0h0M107.5 97.3h0M115.7 108.6h0M112.6 117.8h0M117.6 99.1h0M105.9 86.6h0M108.5 126.0h0M108.2 119.4h0M108.3 128.1h0M107.3 95.8h0M112.0 91.2h0M119.5 113.2h0M108.8 93.5h0M109.9 100.4h0M109.5 132.8h0M102.2 101.3h0M115.6 123.2h0M106.5 121.8h0M119.2 124.0h0M114.8 110.6h0M124.7 138.1h0M104.7 98.4h0M122.6 131.7h0M112.3 97.4h0M108.2 90.5h0M103.7 114.4h0M104.5 127.4h0M114.4 105.4h0M97.4 115.7h0M91.5 114.4h0M105.8 103.1h0M221.6 154.8h0M104.5 112.6h0M111.8 134.7h0M110.3 129.3h0M115.4 101.9h0M217.9 163.3h0M120.8 111.4h0M130.2 139.7h0M101.0 81.3h0M111.5 112.6h0M114.6 128.6h0M111.7 122.7h0M104.9 86.8h0M144.9 139.1h0M114.8 119.4h0M98.7 84.6h0M121.3 131.1h0M107.3 100.4h0M110.4 93.6h0M119.1 131.8h0M114.8 96.0h0M114.8 106.7h0M121.3 124.3h0M117.9 100.0h0M103.7 102.8h0M103.2 109.3h0M120.0 103.4h0M112.3 96.3h0M98.5 79.8h0M113.8 113.6h0M106.2 111.5h0M99.1 111.1h0M102.4 99.6h0M101.0 101.4h0M124.3 102.4h0M104.3 104.2h0M113.5 96.3h0M104.7 113.1h0" stroke="#63c5ea" stroke-width="5.0" stroke-linecap="round" fill="none"/>
<path d="M183.0 108.1h0M177.7 107.8h0M162.1 105.2h0M191.7 116.0h0M198.6 118.1h0M207.0 139.9h0M192.4 113.0h0M186.0 110.5h0M185.5 111.1h0M199.0 120.0h0M204.2 125.4h0M198.7 132.2h0M199.8 122.2h0" stroke="#a4222b" stroke-width="5.0" stroke-linecap="round" fill="none"/>
<path d="M175.1 122.7h0M158.6 114.6h0M204.7 130.4h0M182.7 125.6h0M189.0 123.8h0M205.3 137.6h0M194.1 135.2h0M164.2 130.4h0M170.7 113.5h0M189.9 122.1h0M206.9 135.2h0M163.9 109.8h0M181.8 125.9h0M164.3 110.5h0M173.1 128.6h0M158.3 113.7h0M197.2 128.5h0M158.3 126.8h0M169.3 125.0h0M157.2 124.1h0M187.1 120.6h0M183.2 137.3h0M202.5 139.5h0M172.6 129.9h0M177.3 117.3h0M179.6 127.4h0M167.3 129.3h0M188.7 119.7h0M182.7 115.9h0M157.7 111.9h0M201.6 136.0h0M139.6 122.2h0M180.2 124.9h0M159.9 127.0h0M171.0 121.3h0M154.7 106.3h0M170.0 115.1h0M190.2 133.2h0M164.6 127.8h0M143.9 119.6h0M172.4 124.9h0M166.0 121.4h0M209.6 144.5h0M177.9 130.9h0M166.8 129.4h0M202.2 143.5h0M169.6 111.7h0M149.7 117.6h0M167.8 116.8h0M159.7 108.0h0M163.8 122.7h0M165.9 123.3h0M178.5 115.7h0M165.0 128.5h0M172.1 115.1h0M172.0 111.7h0M206.4 142.0h0M176.6 115.4h0M148.0 122.3h0M192.5 132.9h0M139.5 118.5h0M205.8 144.2h0M183.9 131.0h0M161.2 124.1h0M191.3 130.5h0M155.3 115.6h0M171.3 119.7h0M187.4 128.0h0M139.1 114.0h0M163.3 123.4h0M176.8 121.3h0M161.0 114.6h0M207.7 144.4h0" stroke="#f27f80" stroke-width="5.0" stroke-linecap="round" fill="none"/>
<path d="M93.7 104.5h0M94.2 87.2h0M81.1 73.2h0M92.5 85.9h0M224.9 191.3h0M86.3 98.1h0M92.2 90.6h0M221.6 165.7h0M85.0 106.3h0M249.2 192.3h0M92.6 108.2h0M85.0 96.1h0M97.9 102.0h0M248.4 189.8h0M88.0 105.4h0M85.3 107.2h0M89.9 87.6h0M76.9 79.2h0M225.9 192.7h0M223.7 189.5h0M228.0 182.3h0M91.8 105.4h0M85.3 68.1h0M80.8 102.6h0M81.5 106.2h0M87.8 98.1h0M236.4 197.9h0M86.9 120.2h0M89.1 116.0h0M88.0 99.4h0M74.7 108.1h0M84.6 108.3h0M88.4 82.6h0M99.6 98.8h0M90.7 98.4h0M79.2 107.8h0M96.7 84.5h0M227.4 188.0h0M227.2 185.7h0M75.2 104.2h0M240.3 172.9h0M222.3 182.4h0M84.4 91.5h0M230.3 181.6h0M83.5 106.7h0M220.0 170.3h0M101.0 94.6h0M94.9 97.7h0M248.5 191.7h0M229.7 173.8h0M227.6 180.7h0M92.4 94.0h0M92.4 96.1h0M85.5 100.8h0M81.7 105.0h0M66.8 98.2h0M67.5 96.8h0M74.9 106.7h0M90.0 91.7h0M97.5 128.5h0M219.4 175.8h0M230.3 156.8h0M94.3 83.3h0M242.6 193.6h0M90.1 102.5h0M87.8 106.2h0M102.2 93.2h0M83.1 114.6h0M93.2 95.5h0M87.3 110.0h0M88.7 101.2h0M244.3 196.1h0M236.6 182.4h0M89.8 110.2h0M67.4 101.2h0M249.9 190.6h0M94.8 85.8h0M88.8 69.8h0M242.0 197.1h0M242.0 174.6h0M237.8 175.6h0M90.7 103.9h0M226.7 188.9h0M220.4 185.4h0M235.7 156.4h0M80.1 109.3h0M228.6 187.4h0M224.2 188.1h0M230.0 179.9h0" stroke="#3679c9" stroke-width="5.0" stroke-linecap="round" fill="none"/>
<path d="M72.1 85.7h0M94.2 76.0h0M40.2 75.6h0M76.4 103.4h0M40.4 99.9h0M72.4 94.2h0M67.5 100.7h0M65.9 74.5h0M64.7 82.9h0M30.5 89.1h0M51.6 68.3h0M50.7 76.9h0M73.9 72.0h0M53.9 74.3h0M66.8 77.7h0M30.8 92.7h0M45.8 97.5h0M87.7 73.6h0M50.8 96.8h0M44.4 76.4h0M88.0 86.6h0M33.3 68.7h0M34.9 70.2h0M86.5 88.8h0M52.6 63.8h0M82.3 98.8h0M52.2 69.9h0M39.5 98.8h0M41.1 98.4h0M32.4 84.8h0M80.0 86.7h0M60.8 64.5h0M59.1 73.2h0M74.3 97.4h0M74.6 75.0h0M70.3 92.3h0M77.3 81.2h0M83.9 98.4h0M79.0 89.4h0M86.8 76.7h0M58.9 85.8h0M48.9 65.3h0M44.3 97.1h0M38.9 91.6h0M37.8 90.3h0M48.9 91.5h0M85.6 74.3h0M47.8 90.1h0M71.7 90.7h0M35.0 94.1h0M35.0 84.9h0M38.2 64.1h0M31.0 76.6h0M87.6 83.5h0M77.1 84.8h0M43.8 69.1h0M61.2 78.5h0M66.2 99.2h0M86.9 69.4h0M32.2 65.4h0M70.0 90.6h0M39.9 93.7h0M61.3 90.7h0M46.0 88.0h0M70.5 69.9h0M25.8 71.8h0M55.8 74.6h0M98.5 100.0h0M58.5 90.2h0M65.7 99.5h0M59.2 62.1h0M76.7 82.2h0M70.3 81.1h0M65.4 97.7h0M57.8 92.7h0M78.8 99.2h0M65.2 97.5h0M83.8 71.6h0M62.9 89.7h0M43.0 87.4h0M86.5 97.4h0M37.6 74.3h0M44.9 82.2h0M74.6 78.1h0M64.1 72.9h0M58.2 82.0h0M40.1 84.1h0M48.4 79.0h0M87.9 79.4h0M90.0 75.9h0M77.4 94.0h0M73.8 76.0h0M61.9 94.4h0M59.6 78.4h0M66.6 99.4h0M49.1 101.0h0M65.7 85.3h0M49.3 80.0h0M48.9 67.1h0M75.9 96.8h0M56.7 97.4h0M80.6 80.1h0M41.5 97.2h0M31.5 89.4h0M54.8 80.2h0M69.2 92.3h0M64.6 87.1h0M85.0 83.5h0M53.0 84.6h0M46.6 79.7h0M90.9 78.9h0M55.2 93.7h0M72.7 87.6h0M87.5 74.5h0M37.9 82.4h0M64.0 95.7h0M69.5 69.2h0M89.3 92.4h0M33.3 90.9h0M51.9 93.5h0M26.0 73.5h0M85.2 88.3h0M69.2 78.8h0M83.0 92.8h0M60.7 70.0h0M70.6 81.3h0M45.5 77.1h0M29.4 81.7h0M67.0 97.3h0M56.9 72.6h0M35.1 81.1h0M59.0 75.0h0M27.3 81.4h0M67.8 101.5h0M46.7 85.6h0M36.7 72.4h0M45.4 94.6h0M72.4 74.8h0M78.7 86.2h0M30.3 92.9h0M40.0 85.7h0M46.8 99.1h0M34.4 98.0h0M51.8 83.3h0M60.7 69.7h0M55.6 68.9h0M72.5 74.1h0M26.4 70.3h0M71.0 92.3h0M58.0 99.3h0M83.0 86.6h0M29.6 85.2h0M79.7 67.3h0M70.2 71.2h0M63.4 82.0h0M67.1 94.8h0M54.5 84.7h0M73.8 87.4h0M84.1 75.5h0M33.7 95.2h0M66.0 96.9h0M33.2 74.2h0M49.4 92.7h0M89.8 80.9h0M31.7 64.3h0M32.4 72.9h0M65.0 69.5h0M71.5 70.5h0M68.4 88.4h0M55.1 91.5h0M79.3 78.9h0M56.7 87.0h0M67.8 80.8h0M77.0 76.1h0M54.6 98.1h0M56.9 69.1h0M85.5 86.0h0M34.7 64.4h0M42.1 90.2h0M28.4 70.3h0M69.8 87.6h0M61.6 62.8h0M67.0 95.4h0M60.3 89.5h0M80.6 89.2h0M54.0 68.1h0M73.3 106.1h0M36.6 92.2h0M32.6 91.1h0M47.1 69.4h0M57.6 67.9h0M27.3 84.1h0M77.1 90.5h0M36.9 69.4h0M77.4 88.9h0M69.6 98.4h0M61.5 98.3h0M69.4 91.4h0M91.7 93.8h0M41.3 86.9h0M81.7 90.6h0M39.7 92.1h0M67.8 90.0h0M48.0 92.7h0M46.1 73.8h0M55.5 84.6h0M56.8 84.1h0M90.8 81.4h0M61.4 77.4h0M84.7 82.4h0M70.2 99.1h0M84.9 111.8h0M50.7 98.1h0M83.5 96.1h0M39.1 66.1h0M47.7 75.8h0M58.0 82.2h0M86.0 112.5h0M48.0 97.7h0M73.3 93.5h0M32.7 97.0h0M93.4 79.4h0M75.1 95.8h0M87.4 81.6h0M36.5 87.3h0M78.4 81.1h0M84.7 81.5h0M65.8 99.9h0M80.4 91.5h0M72.7 80.7h0M46.8 92.7h0M65.1 93.4h0M50.2 78.4h0M68.6 102.6h0M59.4 84.3h0M50.6 85.7h0M69.4 81.9h0M71.7 86.4h0M76.0 98.8h0M81.7 68.1h0M59.5 67.4h0M80.1 94.3h0M95.9 105.7h0" stroke="#2d6bb7" stroke-width="5.0" stroke-linecap="round" fill="none"/>
<path d="M191.7 149.6h0M151.1 138.1h0M195.0 154.3h0M140.6 133.0h0M135.4 123.3h0M148.7 140.7h0M171.4 140.0h0M133.9 127.1h0M130.1 110.8h0M141.3 135.2h0M151.6 106.6h0M147.2 106.8h0M136.9 128.7h0M195.1 150.0h0M125.9 121.4h0M136.6 125.3h0M133.4 109.4h0M212.2 152.1h0M157.0 129.4h0M134.7 114.1h0M197.7 153.8h0M147.7 130.8h0M214.3 153.1h0M128.9 114.9h0M138.8 104.7h0M138.2 120.7h0M165.6 140.9h0M163.9 136.3h0M131.9 109.1h0M123.9 116.7h0M139.4 106.8h0M138.9 108.6h0M183.6 133.6h0M126.7 115.2h0M132.8 122.8h0M164.6 137.4h0M196.5 154.3h0M140.6 127.2h0M153.5 108.9h0M122.2 117.1h0M130.8 107.5h0M150.5 130.8h0M216.6 152.3h0M139.2 130.2h0M121.6 115.5h0M123.2 105.9h0M131.7 112.0h0M130.6 123.7h0M212.0 159.0h0M150.4 135.6h0M177.6 140.5h0M144.4 110.9h0M162.9 137.5h0M130.2 121.0h0M145.8 134.2h0M148.8 110.4h0M143.1 108.5h0M129.9 129.9h0M212.8 132.3h0M216.0 143.2h0M219.2 142.8h0M221.5 145.5h0M222.5 141.0h0" stroke="#fbf0a6" stroke-width="5.0" stroke-linecap="round" fill="none"/>
<path d="M151.6 121.4h0M151.3 119.1h0M179.8 114.2h0M187.1 132.7h0M182.2 122.7h0M169.3 121.4h0M186.2 129.0h0M196.0 129.9h0M147.7 119.2h0M155.9 121.7h0M163.6 128.5h0M174.6 117.0h0M174.8 123.1h0M184.8 128.7h0M176.4 118.0h0M194.7 133.4h0M200.8 140.0h0M150.1 113.1h0M188.2 132.3h0M179.7 114.7h0M172.0 115.8h0M185.7 130.2h0M156.7 109.8h0M203.3 139.0h0M180.8 119.0h0M166.8 111.0h0M164.8 120.2h0M177.7 120.2h0M131.5 117.7h0M211.7 147.5h0M161.0 138.1h0M178.0 132.1h0M202.5 127.9h0M185.8 135.1h0M154.0 104.8h0M191.2 121.4h0M194.4 140.3h0M157.2 113.2h0M193.8 121.3h0M204.6 134.5h0M162.2 116.9h0M201.8 139.3h0M207.6 145.9h0M184.9 130.3h0M202.6 131.0h0M206.7 148.0h0M143.8 117.0h0M180.3 121.3h0M169.1 129.1h0M207.2 135.4h0M167.6 130.6h0M149.1 120.3h0M187.7 135.7h0M195.7 124.6h0M197.6 130.2h0M176.3 126.1h0M154.7 123.1h0M176.0 130.3h0M159.3 107.2h0M192.0 135.4h0M179.4 128.2h0M164.7 131.1h0M157.6 128.3h0M189.5 136.3h0M159.6 128.1h0M170.9 116.1h0M206.1 133.7h0M154.2 106.8h0M143.1 117.3h0M156.1 108.7h0M142.2 122.8h0M173.1 113.1h0M213.2 129.3h0" stroke="#f27f80" stroke-width="5.0" stroke-linecap="round" fill="none"/>
<path d="M90.5 96.2h0M242.9 192.7h0M95.7 90.7h0M93.7 114.3h0M232.6 150.6h0M87.9 102.9h0M109.2 88.4h0M105.9 105.4h0M119.9 135.6h0M95.9 93.9h0M230.6 169.4h0M224.9 160.5h0M92.8 104.0h0M114.5 102.8h0M95.3 84.8h0M94.1 124.7h0M101.8 89.2h0M238.7 172.4h0M222.7 185.9h0M96.3 78.1h0M90.2 101.9h0M243.1 182.3h0M88.8 108.8h0M220.2 179.1h0M93.3 115.8h0M98.3 83.4h0M231.3 172.7h0M106.3 130.2h0M222.5 167.0h0M237.6 180.9h0M88.6 104.1h0M235.2 163.8h0M89.6 108.0h0M242.6 190.3h0M241.4 180.1h0M239.8 180.6h0M236.7 167.9h0M96.1 110.0h0M96.6 115.6h0M104.4 123.5h0M80.8 112.3h0M226.6 171.7h0M103.1 90.4h0M235.2 160.2h0M112.6 106.7h0M96.3 90.3h0M94.4 124.5h0M96.1 79.8h0M237.8 197.8h0M235.8 175.7h0M94.6 122.5h0M102.8 120.4h0M99.0 121.9h0M222.5 174.2h0M229.8 155.7h0M231.6 171.4h0M228.0 153.1h0M97.5 116.4h0M106.2 105.1h0M95.8 86.0h0M93.7 110.2h0M231.4 174.1h0M242.5 181.6h0M219.8 164.3h0M99.4 91.0h0M107.6 124.9h0M97.3 117.4h0M120.5 130.3h0M242.9 185.0h0M118.3 134.9h0M130.4 139.0h0M105.9 93.1h0M112.8 115.4h0M101.2 113.6h0M117.8 133.6h0M107.2 126.3h0M239.3 165.1h0M102.9 100.8h0M224.8 183.3h0M98.5 96.5h0M96.6 123.5h0M235.0 164.6h0M86.0 103.6h0M87.2 115.9h0M111.0 127.0h0M88.3 114.7h0M238.2 164.1h0M94.7 77.9h0M94.2 120.8h0M99.1 80.9h0M99.9 115.8h0M223.3 156.7h0M103.2 131.0h0M105.6 95.8h0M222.6 172.6h0M208.2 167.8h0" stroke="#6aa5dc" stroke-width="5.0" stroke-linecap="round" fill="none"/>
<path d="M168.2 118.2h0M145.6 104.2h0M129.0 111.2h0M195.0 140.0h0M149.4 122.3h0M158.3 121.2h0M157.3 131.7h0M186.3 123.4h0M163.9 134.5h0M150.9 114.3h0M154.1 121.3h0M176.8 139.9h0M137.6 124.9h0M137.0 126.2h0M159.5 141.0h0M158.9 130.4h0M131.0 116.5h0M161.6 134.8h0M173.1 138.7h0M149.4 136.7h0M179.0 127.7h0M128.1 119.6h0M177.7 141.7h0M161.2 130.9h0M177.5 123.1h0M134.5 120.2h0M148.6 125.6h0M128.2 114.8h0M143.4 128.0h0M200.5 143.3h0M136.7 111.9h0M181.4 129.8h0M141.4 119.8h0M155.9 124.1h0M171.1 138.1h0M133.2 113.8h0M142.9 118.0h0M155.5 130.1h0M158.5 136.5h0M140.1 116.9h0M204.7 150.4h0M154.6 111.1h0M190.7 129.0h0M186.0 126.4h0M162.9 118.9h0M147.8 129.0h0M149.8 109.3h0M154.9 131.7h0M160.9 137.0h0M192.9 134.2h0M152.3 113.0h0M188.1 140.3h0M206.7 133.4h0M151.8 110.0h0M155.8 111.4h0M197.9 140.8h0M140.8 115.6h0M166.1 127.7h0M152.3 109.4h0M188.7 127.7h0M198.8 144.8h0M226.9 141.4h0" stroke="#fcc07e" stroke-width="5.0" stroke-linecap="round" fill="none"/>
<path d="M167.0 105.8h0M187.3 111.4h0M198.1 119.4h0M190.6 114.8h0M161.5 104.4h0M169.2 107.3h0M161.0 106.9h0M195.7 117.3h0M178.7 111.5h0M182.1 111.0h0" stroke="#a4222b" stroke-width="5.0" stroke-linecap="round" fill="none"/>
<path d="M190.0 148.5h0M117.2 97.2h0M116.7 102.9h0M201.5 154.0h0M129.9 136.0h0M187.3 153.0h0M127.5 133.6h0M125.6 119.7h0M213.1 162.1h0M125.7 138.5h0M201.3 154.9h0M126.3 104.4h0M147.4 139.8h0M128.7 130.6h0M123.4 122.8h0M166.6 140.8h0M189.2 151.1h0M143.0 133.4h0M213.8 159.5h0M117.8 97.7h0M123.8 125.6h0M198.7 153.9h0M121.6 120.2h0M151.5 139.1h0M147.8 136.4h0M146.3 135.1h0M146.9 104.6h0M106.4 110.7h0M122.0 104.3h0M110.1 91.9h0M122.9 122.5h0M120.5 130.6h0M167.8 138.3h0M119.9 117.0h0M122.8 102.4h0M123.0 100.9h0M129.5 132.2h0M117.0 114.9h0M216.9 156.5h0M185.0 146.5h0M189.1 151.8h0M128.0 125.7h0M117.8 117.4h0M108.9 91.7h0M187.3 149.5h0M120.9 106.7h0M152.2 136.9h0M119.2 115.8h0M117.0 108.1h0M145.8 132.8h0M105.0 108.6h0M122.7 116.4h0M107.6 105.6h0M199.2 154.0h0M137.1 131.5h0M122.4 101.0h0M130.6 126.2h0M150.0 132.7h0M114.9 97.6h0M118.0 100.4h0M136.7 132.9h0M186.4 152.2h0M127.0 123.3h0M197.2 151.7h0M147.2 134.9h0M124.3 105.6h0M124.2 108.2h0M217.1 153.8h0M114.8 115.2h0M188.8 151.5h0M216.3 139.8h0M223.7 138.7h0M229.6 143.2h0M218.5 146.5h0M195.9 163.3h0M225.5 144.5h0" stroke="#aadccb" stroke-width="5.0" stroke-linecap="round" fill="none"/>
<path d="M112.0 100.7h0M137.6 139.8h0M106.4 108.8h0M110.4 116.8h0M118.6 100.4h0M222.7 155.8h0M110.8 107.4h0M112.5 131.6h0M108.0 132.8h0M105.5 115.3h0M107.2 90.0h0M114.9 93.8h0M104.0 124.2h0M109.2 121.1h0M118.7 113.7h0M106.3 132.0h0M116.9 121.3h0M111.9 129.2h0M112.5 94.5h0M121.4 98.6h0M103.1 110.1h0M98.8 89.7h0M112.5 118.4h0M108.4 108.1h0M95.3 111.7h0M96.3 119.6h0M109.3 116.7h0M102.3 82.7h0M106.0 91.1h0M111.5 90.2h0M126.5 135.8h0M121.6 132.1h0M112.1 125.8h0M109.2 102.8h0M118.3 107.6h0M106.5 89.2h0M109.9 119.5h0M120.0 125.2h0M221.1 153.1h0M126.0 132.8h0M123.8 127.5h0M125.4 140.3h0M101.3 111.3h0M118.1 98.7h0M138.5 139.4h0M120.4 125.8h0M112.5 112.9h0M110.7 129.9h0M113.0 125.6h0M103.7 111.4h0M113.2 92.3h0M115.6 131.6h0M117.2 126.3h0M118.8 123.4h0M110.4 89.9h0M116.4 101.8h0M111.2 103.5h0M117.1 110.6h0M113.1 126.6h0M216.2 159.0h0M105.3 109.9h0M113.1 106.2h0M104.4 125.4h0M212.3 135.0h0M215.0 136.8h0M212.0 137.8h0" stroke="#63c5ea" stroke-width="5.0" stroke-linecap="round" fill="none"/>
<path d="M211.1 146.9h0M175.8 110.9h0M193.8 118.1h0M172.5 104.7h0M206.0 130.9h0M198.4 124.9h0M206.7 128.6h0M196.2 121.8h0M205.4 132.5h0M160.9 105.0h0M174.8 124.2h0M196.2 119.3h0M209.8 136.6h0M176.5 114.6h0M204.0 139.5h0M202.5 132.1h0M187.5 114.8h0M170.8 126.5h0M186.0 113.9h0" stroke="#e8252a" stroke-width="5.0" stroke-linecap="round" fill="none"/>
<path d="M22.1 85.4 L24.2 85.0 L27.4 84.4 L30.8 83.8 L33.6 83.3 L36.7 82.8 L39.9 82.3 L43.2 81.8 L46.3 81.5 L49.4 81.2 L52.6 80.9 L55.7 80.7 L58.7 80.5 L61.8 80.5 L65.1 80.6 L68.0 80.9 L70.6 81.4 L73.6 82.4 L76.2 83.8 L78.7 85.6 L81.0 87.5 L83.4 89.7 L85.8 91.7 L88.0 93.6 L90.3 95.6 L92.6 97.6 L94.8 99.6 L97.1 101.8 L99.4 104.0 L101.6 106.0 L103.9 108.1 L106.2 110.2 L108.5 112.0 L110.9 113.8 L113.5 115.5 L116.1 117.0 L118.8 118.3 L121.6 119.4 L124.5 120.3 L126.9 121.2 L130.1 121.7 L133.0 121.9 L135.9 122.0 L139.2 122.0 L142.5 121.9 L145.8 121.9 L148.9 121.9 L152.2 121.7 L155.5 121.6 L158.6 121.6 L161.3 121.6 L164.6 121.8 L167.4 122.2 L170.1 122.9 L173.0 123.6 L176.0 124.5 L179.0 125.7 L181.7 127.2 L184.2 129.1 L186.6 131.1 L189.1 133.2 L191.5 135.2 L193.8 137.2 L196.2 139.3 L198.6 141.3 L200.9 143.3 L203.1 145.3 L205.4 147.3 L207.7 149.3 L209.9 151.4 L212.1 153.6 L214.3 155.7 L216.4 157.8 L218.6 160.0 L220.7 162.2 L222.7 164.3 L224.6 166.7 L226.4 169.3 L228.2 171.9 L230.0 174.5 L231.9 177.0 L233.9 179.6 L235.8 182.0 L237.7 184.3 L239.9 186.7 L242.0 188.7 L244.5 190.8 L247.5 192.8 L249.9 194.4 L250.1 194.6" fill="none" stroke="#0a0a0a" stroke-width="5.6" stroke-linejoin="round"/>
<path d="M22.1 85.4 L24.2 85.0 L27.4 84.4 L30.8 83.8 L33.6 83.3 L36.7 82.8 L39.9 82.3 L43.2 81.8 L46.3 81.5 L49.4 81.2 L52.6 80.9 L55.7 80.7 L58.7 80.5 L61.8 80.5 L65.1 80.6 L68.0 80.9 L70.6 81.4 L73.6 82.4 L76.2 83.8 L78.7 85.6 L81.0 87.5 L83.4 89.7 L85.8 91.7 L88.0 93.6 L90.3 95.6 L92.6 97.6 L94.8 99.6 L97.1 101.8 L99.4 104.0 L101.6 106.0 L103.9 108.1 L106.2 110.2 L108.5 112.0 L110.9 113.8 L113.5 115.5 L116.1 117.0 L118.8 118.3 L121.6 119.4 L124.5 120.3 L126.9 121.2 L130.1 121.7 L133.0 121.9 L135.9 122.0 L139.2 122.0 L142.5 121.9 L145.8 121.9 L148.9 121.9 L152.2 121.7 L155.5 121.6 L158.6 121.6 L161.3 121.6 L164.6 121.8 L167.4 122.2 L170.1 122.9 L173.0 123.6 L176.0 124.5 L179.0 125.7 L181.7 127.2 L184.2 129.1 L186.6 131.1 L189.1 133.2 L191.5 135.2 L193.8 137.2 L196.2 139.3 L198.6 141.3 L200.9 143.3 L203.1 145.3 L205.4 147.3 L207.7 149.3 L209.9 151.4 L212.1 153.6 L214.3 155.7 L216.4 157.8 L218.6 160.0 L220.7 162.2 L222.7 164.3 L224.6 166.7 L226.4 169.3 L228.2 171.9 L230.0 174.5 L231.9 177.0 L233.9 179.6 L235.8 182.0 L237.7 184.3 L239.9 186.7 L242.0 188.7 L244.5 190.8 L247.5 192.8 L249.9 194.4 L250.1 194.6" fill="none" stroke="#fff" stroke-width="4.1" stroke-dasharray="0 7.7 8.2 7.72 8.2 7.72 8.2 7.72 8.2 7.72 8.2 7.72 8.2 7.72 8.2 7.72 8.2 7.72 8.2 7.72 8.2 7.72 8.2 7.72 8.2 7.72 8.2 7.72 8.2 7.72 8.2 7.72 8.2 7.72 8.2 7.72 8.2 7.72 8.2 7.72"/>
</g>
</defs>
<g clip-path="url(#ca)">
<rect x="0" y="0" width="273" height="275" fill="#add9a3"/>
<polygon fill="#87c867" points="82.9,4.0 113.9,40.4 140.9,72.8 162.5,98.4 184.0,107.8 205.6,113.2 221.8,118.6 237.4,129.5 253.8,139.6 262.0,149.0 274.0,153.0 274.0,4.0"/>
<polygon fill="#69be5c" points="183.5,4.0 200.0,24.0 211.0,32.0 219.0,52.6 232.5,55.0 248.7,70.0 259.5,76.8 274.0,86.5 274.0,4.0"/>
<polygon fill="#87c867" points="273.0,235.0 252.3,276.0 273.0,276.0"/>
</g>
<g clip-path="url(#cb)">
<rect x="272" y="0" width="273" height="275" fill="#5db94a"/>
<polygon fill="#7dc144" points="441.0,275.0 482.0,250.0 512.0,231.0 520.0,209.0 531.0,187.4 545.0,163.0 545.0,275.0"/>
<polygon fill="#69be5c" points="545.0,240.0 529.0,275.0 545.0,275.0"/>
</g>
<g clip-path="url(#cc)">
<rect x="543" y="0" width="273" height="275" fill="#379447"/>
<polygon fill="#5db94a" points="543.0,192.0 573.8,179.2 607.6,165.7 641.5,153.8 651.6,151.1 695.6,151.1 722.6,160.6 739.5,174.1 749.7,201.2 756.4,228.2 754.7,248.5 746.3,262.0 735.5,275.0 543.0,275.0"/>
</g>
<g clip-path="url(#cd)">
<rect x="0" y="274" width="273" height="273" fill="#69be5c"/>
<polygon fill="#87c867" points="2.0,401.3 25.8,397.8 29.2,403.0 34.4,392.7 39.6,411.6 44.7,446.0 51.6,490.7 56.8,521.7 61.3,546.0 2.0,546.0"/>
<polygon fill="#add9a3" points="2.0,437.4 13.8,436.4 20.6,451.2 25.8,447.7 29.2,473.5 33.5,497.0 39.2,532.9 24.5,528.6 19.6,539.6 8.6,539.0 2.0,542.5"/>
</g>
<g clip-path="url(#ce)">
<rect x="272" y="274" width="273" height="273" fill="#69be5c"/>
<polygon fill="#87c867" points="272.0,410.1 400.0,383.3 545.0,352.5 545.0,546.0 272.0,546.0"/>
<polygon fill="#add9a3" points="272.0,512.6 369.3,493.0 343.8,546.0 272.0,546.0"/>
<polygon fill="#ffffff" points="368.0,546.0 372.9,543.2 545.0,444.1 545.0,546.0"/>
</g>
<g clip-path="url(#ca)"><use href="#band" transform="translate(0,0)"/></g>
<g clip-path="url(#cb)"><use href="#band" transform="translate(268.5,-2.4)"/></g>
<g clip-path="url(#cc)"><use href="#band" transform="translate(540.5,-2.9)"/></g>
<g clip-path="url(#cd)"><use href="#band" transform="translate(-2.5,280.7)"/></g>
<g clip-path="url(#ce)"><use href="#band" transform="translate(263.1,283.5)"/></g>
<g stroke="#181414" stroke-width="1.75" fill="none" stroke-linecap="butt">
<path d="M2.9 4.5H814.0" stroke-width="1.35"/>
<path d="M2.9 274.7H814.0"/>
<path d="M2.9 545.0H544.0" stroke-width="2"/>
<path d="M272.7 4.5V545.0"/>
<path d="M543.0 4.5V546.0" stroke-width="2"/>
<path d="M813.3 3.9V275.55" stroke-width="1.45"/>
</g>
<text x="100.5" y="263.8" font-size="15" textLength="66.2" lengthAdjust="spacingAndGlyphs">(a) 2010年</text>
<text x="378.8" y="263.8" font-size="15" textLength="66.2" lengthAdjust="spacingAndGlyphs">(b) 2011年</text>
<text x="651.6" y="263.8" font-size="15" textLength="66.2" lengthAdjust="spacingAndGlyphs">(c) 2012年</text>
<text x="99.9" y="535.4" font-size="15" textLength="66.2" lengthAdjust="spacingAndGlyphs">(d) 2013年</text>
<text x="378.8" y="539.3" font-size="15" textLength="66.2" lengthAdjust="spacingAndGlyphs">(e) 2014年</text>
<text x="571.5" y="336" font-size="15">图例</text>
<text x="571.5" y="352.6" font-size="15" textLength="72.5" lengthAdjust="spacingAndGlyphs">沉降量/mm</text>
<circle cx="574.5" cy="366.4" r="1.65" fill="#9b1c26"/>
<text x="580.3" y="370.0" font-size="15" textLength="103.7" lengthAdjust="spacingAndGlyphs">–100.34~ –80.65</text>
<circle cx="574.5" cy="381.8" r="1.65" fill="#ee2a24"/>
<text x="580.3" y="385.4" font-size="15" textLength="95.1" lengthAdjust="spacingAndGlyphs">–80.64~ –67.17</text>
<circle cx="574.5" cy="397.2" r="1.65" fill="#f2767a"/>
<text x="580.3" y="400.8" font-size="15" textLength="95.1" lengthAdjust="spacingAndGlyphs">–67.16~ –55.30</text>
<circle cx="574.5" cy="412.6" r="1.65" fill="#fbbf77"/>
<text x="580.3" y="416.2" font-size="15" textLength="95.1" lengthAdjust="spacingAndGlyphs">–55.29~ –44.18</text>
<circle cx="574.5" cy="428.0" r="1.65" fill="#f7f3a8"/>
<text x="580.3" y="431.6" font-size="15" textLength="95.1" lengthAdjust="spacingAndGlyphs">–44.17~ –33.09</text>
<circle cx="574.5" cy="443.4" r="1.65" fill="#a9dcc8"/>
<text x="580.3" y="447.0" font-size="15" textLength="95.1" lengthAdjust="spacingAndGlyphs">–33.08~ –21.20</text>
<circle cx="574.5" cy="458.8" r="1.65" fill="#5cc4ea"/>
<text x="580.3" y="462.4" font-size="15" textLength="95.1" lengthAdjust="spacingAndGlyphs">–21.19~ –10.13</text>
<circle cx="574.5" cy="474.2" r="1.65" fill="#5e9cde"/>
<text x="580.3" y="477.8" font-size="15" textLength="95.6" lengthAdjust="spacingAndGlyphs">–10.12~ –1.730</text>
<circle cx="574.5" cy="489.6" r="1.65" fill="#2a62c0"/>
<text x="580.3" y="493.2" font-size="15" textLength="83.6" lengthAdjust="spacingAndGlyphs">–1.720~4.760</text>
<circle cx="574.5" cy="505.0" r="1.65" fill="#2454b4"/>
<text x="584.5" y="508.6" font-size="15" textLength="75.8" lengthAdjust="spacingAndGlyphs">4.770~22.03</text>
<path d="M685.2 351.6H709.4V357.9H685.2" fill="#fff" stroke="#1a1a1a" stroke-width="0.9"/>
<rect x="693.3" y="351.6" width="7.5" height="6.3" fill="#111"/>
<text x="713.9" y="360" font-size="15">京津高铁</text>
<text x="686.3" y="377.7" font-size="15" textLength="73" lengthAdjust="spacingAndGlyphs">降雨量/mm</text>
<rect x="686.9" y="384.4" width="25.2" height="12.6" fill="#ffffff" stroke="#7d7d7d" stroke-width="1"/>
<text x="716.2" y="395.5" font-size="15" textLength="53.2" lengthAdjust="spacingAndGlyphs">300~399</text>
<rect x="686.9" y="401.2" width="25.2" height="12.6" fill="#add9a3" stroke="#7d7d7d" stroke-width="1"/>
<text x="716.2" y="412.3" font-size="15" textLength="53.2" lengthAdjust="spacingAndGlyphs">399~434</text>
<rect x="686.9" y="418.0" width="25.2" height="12.6" fill="#87c867" stroke="#7d7d7d" stroke-width="1"/>
<text x="716.2" y="429.1" font-size="15" textLength="53.2" lengthAdjust="spacingAndGlyphs">435~475</text>
<rect x="686.9" y="434.8" width="25.2" height="12.6" fill="#69be5c" stroke="#7d7d7d" stroke-width="1"/>
<text x="716.2" y="445.9" font-size="15" textLength="53.2" lengthAdjust="spacingAndGlyphs">476~503</text>
<rect x="686.9" y="451.6" width="25.2" height="12.6" fill="#7dc144" stroke="#7d7d7d" stroke-width="1"/>
<text x="716.2" y="462.7" font-size="15" textLength="53.2" lengthAdjust="spacingAndGlyphs">504~536</text>
<rect x="686.9" y="468.4" width="25.2" height="12.6" fill="#5db94a" stroke="#7d7d7d" stroke-width="1"/>
<text x="716.2" y="479.5" font-size="15" textLength="53.2" lengthAdjust="spacingAndGlyphs">537~706</text>
<rect x="686.9" y="485.2" width="25.2" height="12.6" fill="#379447" stroke="#7d7d7d" stroke-width="1"/>
<text x="716.2" y="496.3" font-size="15" textLength="53.2" lengthAdjust="spacingAndGlyphs">707~905</text>
<rect x="686.9" y="502.0" width="25.2" height="12.6" fill="#55735a" stroke="#7d7d7d" stroke-width="1"/>
<text x="716.2" y="513.1" font-size="15" textLength="61.2" lengthAdjust="spacingAndGlyphs">906~1000</text>
<text x="760.6" y="300.4" font-size="14.5">N</text>
<path d="M765.5 303.4L758.3 326.4L765.5 318.3Z" fill="#111" stroke="#111" stroke-width="0.6" stroke-linejoin="miter"/>
<path d="M765.5 303.4L772.9 326.4L765.5 318.3Z" fill="#fff" stroke="#111" stroke-width="0.8" stroke-linejoin="miter"/>
<text x="570.3" y="530.5" font-size="15">0</text>
<text x="654" y="530.5" font-size="15" textLength="37.7" lengthAdjust="spacingAndGlyphs">20 km</text>
<path d="M572.6 534.4V540.6H666V534.4" fill="none" stroke="#231f20" stroke-width="1"/>
</svg></body></html>
